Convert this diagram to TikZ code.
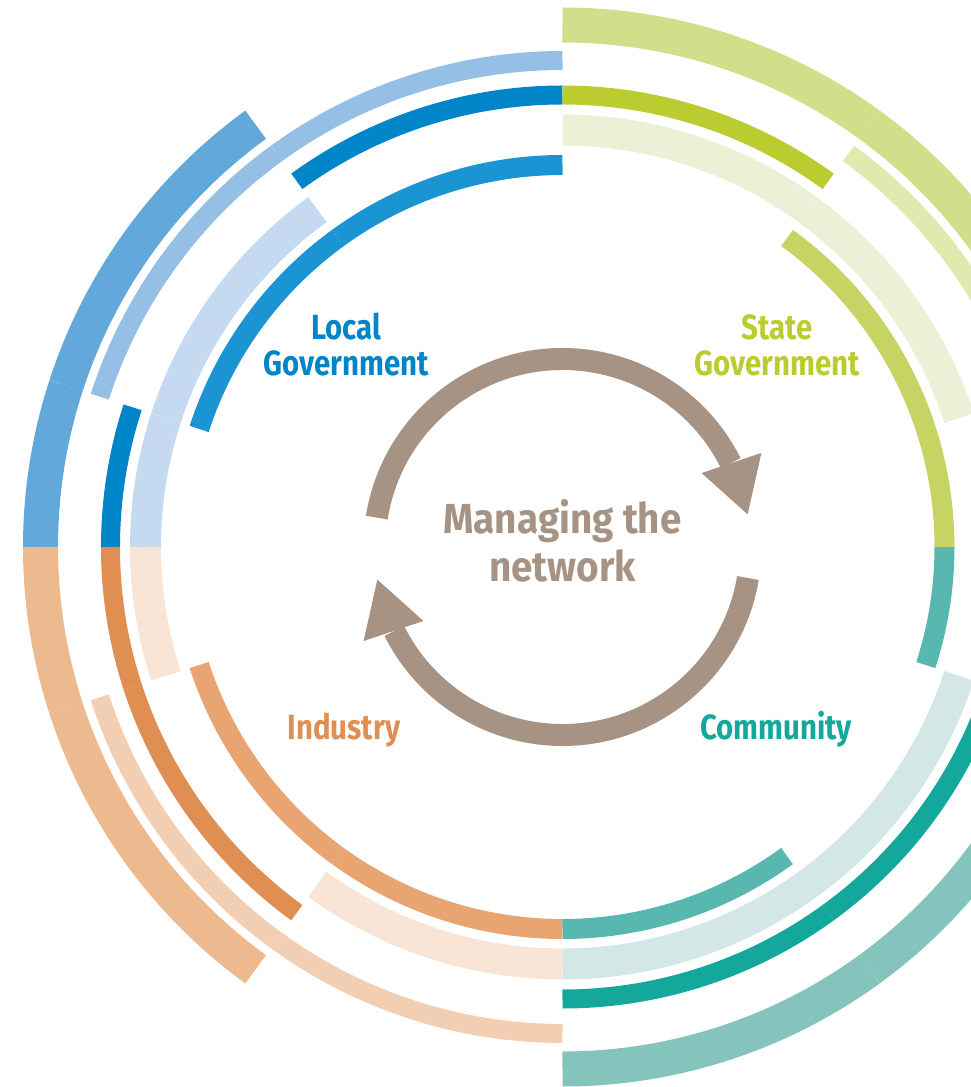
\documentclass[tikz,border=0pt]{standalone}
\usepackage{fontspec}
\setmainfont{Fira Sans}[FakeStretch=0.84]
\newfontfamily\hubfont{Fira Sans}[FakeStretch=0.92]
\usepackage{tikz}

\definecolor{blueA}{HTML}{1A94D2}
\definecolor{blueB}{HTML}{C5DAF0}
\definecolor{blueC}{HTML}{0085C9}
\definecolor{blueD}{HTML}{95BFE4}
\definecolor{blueE}{HTML}{62A8DA}
\definecolor{greenA}{HTML}{C5D462}
\definecolor{greenB}{HTML}{EBF1D6}
\definecolor{greenC}{HTML}{BBCC30}
\definecolor{greenD}{HTML}{E1E9AE}
\definecolor{greenE}{HTML}{D3DE8B}
\definecolor{tealA}{HTML}{58B7AF}
\definecolor{tealB}{HTML}{D3E7E6}
\definecolor{tealC}{HTML}{14A89D}
\definecolor{tealE}{HTML}{85C3BD}
\definecolor{orangeA}{HTML}{E8A572}
\definecolor{orangeB}{HTML}{F8E5D5}
\definecolor{orangeC}{HTML}{E08F52}
\definecolor{orangeD}{HTML}{F2CFB2}
\definecolor{orangeE}{HTML}{EDB98F}
\definecolor{cyclec}{HTML}{A69383}

\begin{document}
\begin{tikzpicture}[x=1pt, y=1pt,
    band/.style={line width=#1},
    cyclearrow/.style={cyclec, line width=22},
    lbl/.style={font=\bfseries\fontsize{35}{36}\selectfont, align=center, inner sep=0},
    hub/.style={font=\hubfont\bfseries\fontsize{42}{48}\selectfont, align=center, inner sep=0, text=cyclec}]
	\useasboundingbox (-562.5,-540) rectangle (408.5,547);
	\clip (-562.5,-540) rectangle (408.5,547);

	% rings: colour / radius / width / from / to
	\foreach \col/\r/\w/\a/\b in {
		blueA/382/20/90/126, blueA/382/20/126/162,
		orangeA/382/20/198/234, orangeA/382/20/234/270,
		tealA/382/20/270/306, tealA/382/20/342/360,
		greenA/382/20/0/18, greenA/382/20/18/54,
		blueB/417/31/126/162, blueB/417/31/162/180,
		orangeB/417/31/180/198, orangeB/417/31/234/270,
		tealB/417/31/270/306, tealB/417/31/306/342,
		greenB/417/31/18/54, greenB/417/31/54/90,
		blueC/452/19/90/126, blueC/452/19/162/180,
		orangeC/452/19/180/198, orangeC/452/19/198/234,
		tealC/452/19/270/306, tealC/452/19/306/342,
		greenC/452/19/54/90,
		blueD/486.5/19/90/126, blueD/486.5/19/126/162,
		orangeD/486.5/19/198/234, orangeD/486.5/19/234/270,
		greenD/486.5/19/18/54,
		blueE/522/35/126/162, blueE/522/35/162/180,
		orangeE/522/35/180/198, orangeE/522/35/198/234,
		tealE/522/35/270/306, tealE/522/35/306/342,
		greenE/522/35/18/54, greenE/522/35/54/90}
		\draw[\col, band=\w] (\a:\r) arc[start angle=\a, end angle=\b, radius=\r];

	% cycle in the middle
	\draw[cyclearrow] (171:188) arc[start angle=171, end angle=26.5, radius=188];
	\fill[cyclec] (28:157.5) -- (25.3:220) -- (10:188) -- cycle;
	\draw[cyclearrow] (-9.5:188) arc[start angle=-9.5, end angle=-153.5, radius=188];
	\fill[cyclec] (208:157.5) -- (205.3:220) -- (190:188) -- cycle;

	\node[hub] (hub) at (0,6.5) {Managing the\\network};
	\node[lbl, text=blueC] (local) at (-216.5,202) {Local\\Government};
	\node[lbl, text=greenC] (state) at (214.5,202) {State\\Government};
	\node[lbl, text=orangeC, anchor=base] (industry) at (-218.5,-192) {Industry};
	\node[lbl, text=tealC, anchor=base] (community) at (213.5,-192) {Community};
\end{tikzpicture}
\end{document}
